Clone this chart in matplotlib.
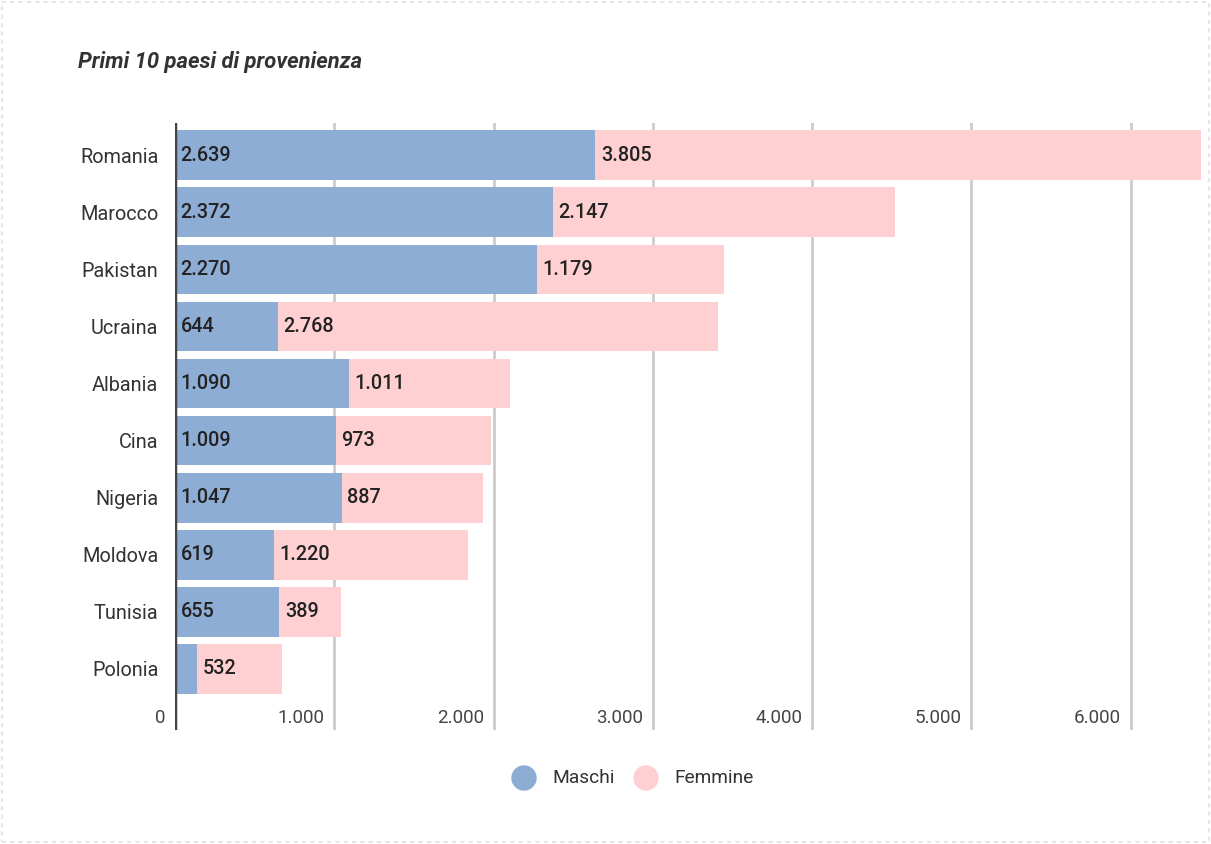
import matplotlib.pyplot as plt
from matplotlib.patches import Rectangle, Ellipse

plt.rcParams['font.family'] = ['Roboto', 'DejaVu Sans']

paesi = ['Romania', 'Marocco', 'Pakistan', 'Ucraina', 'Albania',
         'Cina', 'Nigeria', 'Moldova', 'Tunisia', 'Polonia']
maschi = [2639, 2372, 2270, 644, 1090, 1009, 1047, 619, 655, 138]
femmine = [3805, 2147, 1179, 2768, 1011, 973, 887, 1220, 389, 532]
ticks = [0, 1000, 2000, 3000, 4000, 5000, 6000]
tick_labels = ['0', '1.000', '2.000', '3.000', '4.000', '5.000', '6.000']

blu = '#8eadd5'
rosa = '#ffd0d2'

def fmt(v):
    return f'{v:,}'.replace(',', '.')

fig = plt.figure(figsize=(12.11, 8.44), dpi=100)
ax = fig.add_axes([0.1445, 0.135, 0.8497, 0.719])

y = range(len(paesi))
ax.barh(y, maschi, height=0.87, color=blu, zorder=2)
ax.barh(y, femmine, left=maschi, height=0.87, color=rosa, zorder=2)

for i, (m, f) in enumerate(zip(maschi, femmine)):
    if m > 300:
        ax.text(35, i, fmt(m), va='center', ha='left', fontsize=14.3,
                color='#222222', fontweight='medium', zorder=3)
    ax.text(m + 35, i, fmt(f), va='center', ha='left', fontsize=14.3,
            color='#222222', fontweight='medium', zorder=3)

ax.set_xlim(0, 6460)
ax.set_ylim(len(paesi) - 1 + 1.07, -0.56)

for t in ticks[1:]:
    ax.axvline(t, color='#cccccc', lw=2, zorder=1)
ax.axvline(0, color='#444444', lw=2.5, zorder=4)

for t, lab in zip(ticks, tick_labels):
    ax.text(t - 60, len(paesi) - 1 + 0.86, lab, ha='right', va='center',
            fontsize=13.5, color='#444444')

ax.set_yticks(list(y))
ax.set_yticklabels(paesi, fontsize=14.3, color='#333333')
ax.tick_params(axis='y', length=0, pad=12)
ax.set_xticks([])
for s in ax.spines.values():
    s.set_visible(False)

fig.text(78 / 1211, 1 - 62 / 844, 'Primi 10 paesi di provenienza',
         fontsize=15.8, fontstyle='italic', fontweight='bold',
         color='#333333', va='center', ha='left')

# legenda
ly = 1 - 778 / 844
for x0, col, lab in [(524, blu, 'Maschi'), (646, rosa, 'Femmine')]:
    fig.patches.append(Ellipse((x0 / 1211, ly), 24 / 1211, 24 / 844,
                               transform=fig.transFigure, color=col))
    fig.text((x0 + 28) / 1211, ly, lab, fontsize=13.8, color='#333333',
             va='center', ha='left')

fig.patches.append(Rectangle((0.002, 0.002), 0.996, 0.996, transform=fig.transFigure,
                             fill=False, ec='#e6e6e6', lw=1.5, ls=(0, (2, 2))))

fig.savefig('out.png', dpi=100)
